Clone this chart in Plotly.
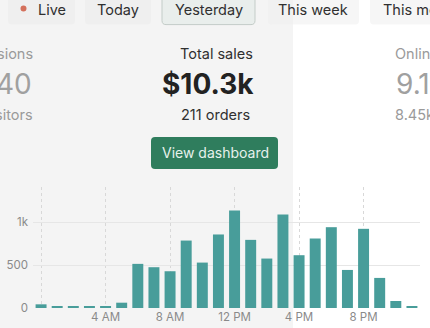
import plotly.graph_objects as go

# ---- data ----
hours = list(range(24))
sales = [43, 23, 23, 23, 23, 62, 515, 476, 429, 787, 530, 858,
         1138, 795, 577, 1092, 616, 811, 943, 444, 924, 351, 82, 23]
x_tick_vals = [0, 4, 8, 12, 16, 20]
x_tick_text = ["", "4 AM", "8 AM", "12 PM", "4 PM", "8 PM"]
y_tick_vals = [0, 500, 1000]
y_tick_text = ["0", "500", "1k"]
tabs = ["Live", "Today", "Yesterday", "This week", "This month"]

W, H = 430, 328
L, R, T, B = 33, 10, 187, 20.3
PW, PH = W - L - R, H - T - B

def px(x):
    return (x - L) / PW

def py(y):
    return (H - B - y) / PH

def rrect(x0, y0, x1, y1, r):
    pts = [
        f"M{px(x0 + r)},{py(y0)}", f"L{px(x1 - r)},{py(y0)}",
        f"Q{px(x1)},{py(y0)} {px(x1)},{py(y0 + r)}", f"L{px(x1)},{py(y1 - r)}",
        f"Q{px(x1)},{py(y1)} {px(x1 - r)},{py(y1)}", f"L{px(x0 + r)},{py(y1)}",
        f"Q{px(x0)},{py(y1)} {px(x0)},{py(y1 - r)}", f"L{px(x0)},{py(y0 + r)}",
        f"Q{px(x0)},{py(y0)} {px(x0 + r)},{py(y0)}", "Z"]
    return " ".join(pts)

FONT = "Inter, Roboto, sans-serif"

fig = go.Figure(go.Bar(x=hours, y=sales, marker_color="#489d9a",
                       marker_line_width=0, hoverinfo="skip"))

shapes = []
# backgrounds
shapes.append(dict(type="rect", xref="paper", yref="paper", x0=px(0), x1=px(293),
                   y0=py(H), y1=py(0), fillcolor="#f4f4f4", line_width=0, layer="below"))
# tab pills
pills = [(8, 75), (85, 151), (162, 255), (268, 359), (370, 440)]
for i, (a, b) in enumerate(pills):
    if i == 2:
        shapes.append(dict(type="path", xref="paper", yref="paper",
                           path=rrect(a, -6, b, 25, 4), fillcolor="#e9eeec",
                           line=dict(color="#c3ccc8", width=1), layer="below"))
    else:
        shapes.append(dict(type="path", xref="paper", yref="paper",
                           path=rrect(a, -6, b, 25, 4),
                           fillcolor="#efefef" if b < 293 else "rgba(238,238,238,0.55)",
                           line_width=0, layer="below"))
# red live dot
shapes.append(dict(type="circle", xref="paper", yref="paper", x0=px(20.5), x1=px(26.5),
                   y0=py(12), y1=py(6), fillcolor="#d4705c", line_width=0))
# button
shapes.append(dict(type="path", xref="paper", yref="paper", path=rrect(151, 137, 278, 169, 4),
                   fillcolor="#2f7d5d", line_width=0))

ann = []
def text(t, x, y, size, color, anchor="center", bold=False):
    ann.append(dict(text=f"<b>{t}</b>" if bold else t, x=px(x), y=py(y),
                    xref="paper", yref="paper", xanchor=anchor, yanchor="middle",
                    showarrow=False, font=dict(family=FONT, size=size, color=color)))

tab_x = [(36, "left"), (118, "center"), (208.5, "center"), (313, "center"), (381, "left")]
for t, (x, a) in zip(tabs, tab_x):
    text(t, x, 9.5, 14.5, "#303030", a)

text("Total sales", 216, 54, 14.5, "#303030")
text("$10.3k", 208, 84, 28, "#222222", bold=True)
text("211 orders", 215, 115, 14.5, "#303030")
text("sions", 35, 54, 14.5, "#9a9a9a", "right")
text("40", 34, 84, 28, "#a0a0a0", "right")
text("sitors", 35, 115, 14.5, "#9a9a9a", "right")
text("Online store", 393, 54, 14.5, "#9a9a9a", "left")
text("9.1", 394, 84, 28, "#a0a0a0", "left")
text("8.45k", 393, 115, 14.5, "#9a9a9a", "left")
text("View dashboard", 215, 153, 14, "#e6f1ec")

fig.update_layout(
    width=W, height=H, autosize=False,
    margin=dict(l=L, r=R, t=T, b=B, pad=0, autoexpand=False),
    paper_bgcolor="#ffffff", plot_bgcolor="rgba(0,0,0,0)",
    showlegend=False, bargap=0.32,
    shapes=shapes, annotations=ann,
    font=dict(family=FONT),
    xaxis=dict(range=[-0.5, 23.5], tickvals=x_tick_vals, ticktext=x_tick_text,
               showgrid=True, gridcolor="#d8d8d8", griddash="dot", gridwidth=1,
               zeroline=False, showline=False, ticks="", automargin=False,
               tickfont=dict(size=11.5, color="#8a8a8a", family=FONT)),
    yaxis=dict(range=[0, 1412], tickvals=y_tick_vals, ticktext=y_tick_text,
               showgrid=True, gridcolor="#e6e6e6", gridwidth=1, zeroline=False,
               showline=False, ticks="", ticklabelstandoff=4, automargin=False,
               tickfont=dict(size=11.5, color="#8a8a8a", family=FONT)),
)

fig.write_html("out.html", config=dict(displayModeBar=False))
